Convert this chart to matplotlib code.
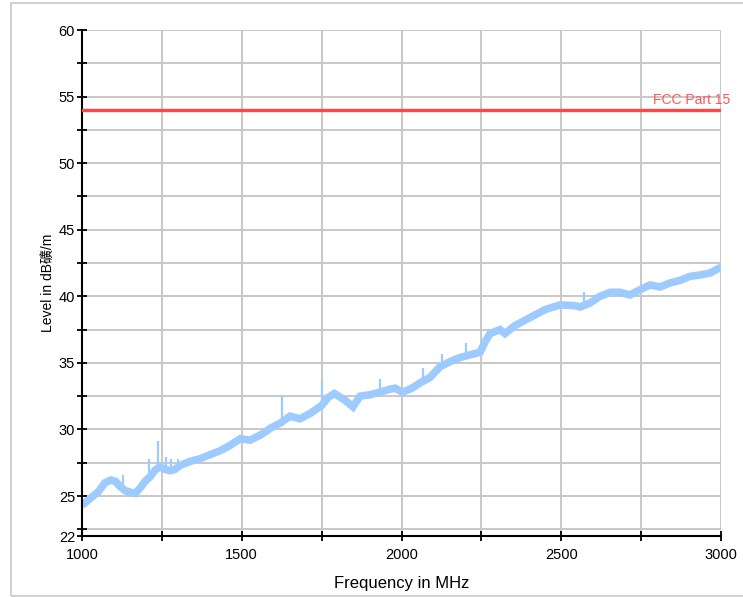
import matplotlib
matplotlib.use("Agg")
import matplotlib.pyplot as plt
from matplotlib.patches import Rectangle

freq = [1000, 1025, 1050, 1072, 1090, 1105, 1120, 1135, 1150, 1166, 1182, 1197,
        1213, 1229, 1244, 1260, 1276, 1291, 1307, 1338, 1369, 1400, 1432, 1463,
        1495, 1526, 1560, 1590, 1622, 1651, 1682, 1714, 1750, 1770, 1790, 1823,
        1848, 1870, 1900, 1933, 1960, 1980, 2003, 2033, 2058, 2089, 2120, 2152,
        2183, 2214, 2246, 2262, 2277, 2308, 2324, 2355, 2402, 2449, 2496, 2543,
        2559, 2590, 2621, 2653, 2684, 2715, 2747, 2778, 2809, 2840, 2872, 2903,
        2934, 2966, 3000]
level = [24.3, 24.8, 25.3, 26.0, 26.2, 26.1, 25.7, 25.4, 25.3, 25.2, 25.6, 26.1,
         26.45, 26.95, 27.2, 27.0, 26.9, 27.0, 27.3, 27.6, 27.8, 28.1, 28.4, 28.8,
         29.3, 29.2, 29.6, 30.1, 30.5, 31.0, 30.8, 31.2, 31.8, 32.4, 32.7, 32.2,
         31.7, 32.5, 32.6, 32.8, 33.0, 33.1, 32.8, 33.1, 33.5, 33.9, 34.7, 35.1,
         35.4, 35.6, 35.8, 36.6, 37.2, 37.5, 37.2, 37.8, 38.4, 39.0, 39.35, 39.3,
         39.2, 39.5, 40.0, 40.3, 40.3, 40.1, 40.5, 40.85, 40.7, 41.0, 41.2, 41.5,
         41.6, 41.75, 42.2]

# narrow spikes sticking out of the trace
spike_freq = [1127, 1210, 1238, 1262, 1280, 1300, 1625, 1750, 1933, 2067, 2126, 2202, 2571]
spike_base = [25.4, 26.4, 27.1, 27.0, 26.9, 27.1, 30.6, 31.8, 32.8, 33.6, 34.8, 35.5, 39.3]
spike_top = [26.6, 27.8, 29.1, 27.9, 27.8, 27.8, 32.6, 33.7, 33.8, 34.6, 35.7, 36.5, 40.3]

limit_level = 54
limit_name = "FCC Part 15"

x_major = [1000, 1500, 2000, 2500, 3000]
x_minor = [1250, 1750, 2250, 2750]
y_major = [22, 25, 30, 35, 40, 45, 50, 55, 60]
y_minor = [22.5, 27.5, 32.5, 37.5, 42.5, 47.5, 52.5, 57.5]

font = ["Liberation Sans", "Noto Sans CJK SC", "DejaVu Sans"]
plt.rcParams["font.family"] = font

fig = plt.figure(figsize=(7.43, 5.97), dpi=100)
fig.patches.append(Rectangle((11 / 743, 1 / 597), 1.0, 1 - 4 / 597,
                             transform=fig.transFigure, fill=False,
                             edgecolor="#c8c8c8", linewidth=1.2))
ax = fig.add_axes([82 / 743, 1 - 536 / 597, (721 - 82) / 743, (536 - 30) / 597])

ax.set_xlim(1000, 3000)
ax.set_ylim(22, 60)

grid_kw = dict(color="#c8c8c8", linewidth=1.4, zorder=0)
for v in x_major[1:] + x_minor:
    ax.axvline(v, **grid_kw)
for v in y_major[1:] + y_minor:
    ax.axhline(v, **grid_kw)

ax.plot(freq, level, color="#9dcbff", linewidth=5.5, solid_joinstyle="miter",
        solid_capstyle="butt", zorder=2)
ax.vlines(spike_freq, spike_base, spike_top, color="#9dcbff", linewidth=1.6, zorder=2)

ax.axhline(limit_level, color="#ff4545", linewidth=2.4, zorder=3)
ax.annotate(limit_name, xy=(3000, limit_level), xytext=(7, 2),
            textcoords="offset points", ha="right", va="bottom",
            color="#ff5555", fontsize=10)

ax.set_xticks(x_major)
ax.set_xticks(x_minor, minor=True)
ax.set_yticks(y_major)
ax.set_yticks(y_minor, minor=True)
ax.tick_params(which="both", direction="inout", length=7, width=1.3,
               color="black", labelsize=10.5, pad=1.5)
ax.tick_params(axis="x", pad=5)

for s in ["top", "right"]:
    ax.spines[s].set_visible(False)
for s in ["left", "bottom"]:
    ax.spines[s].set_linewidth(1.5)

ax.set_xlabel("Frequency in MHz", fontsize=12, labelpad=10)
ax.set_ylabel("Level in dB礦/m", fontsize=10, labelpad=3)

fig.savefig("out.png", dpi=100)
